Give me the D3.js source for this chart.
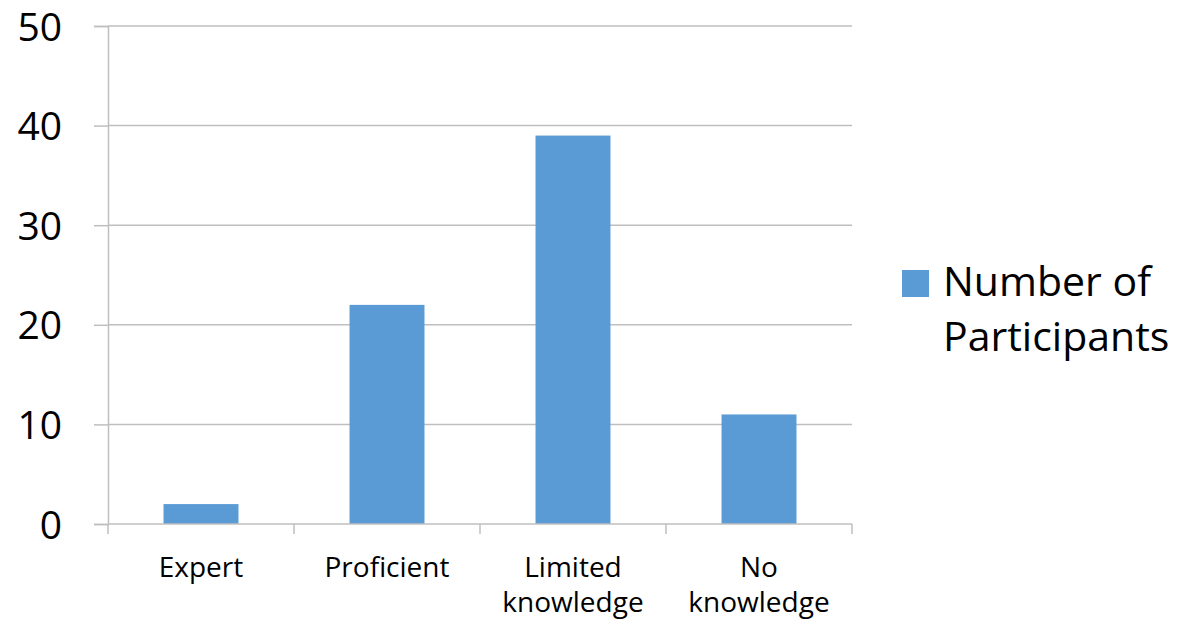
<!DOCTYPE html>
<html>
<head>
<meta charset="utf-8">
<script src="https://cdn.jsdelivr.net/npm/d3@7"></script>
<style>
  html, body { margin: 0; padding: 0; background: #fff; }
  svg text { font-family: "Open Sans", "Noto Sans", sans-serif; fill: #000; }
</style>
</head>
<body>
<svg id="chart" width="1178" height="620"></svg>
<script>
const categories = [["Expert"], ["Proficient"], ["Limited", "knowledge"], ["No", "knowledge"]];
const values = [2, 22, 39, 11];
const yTicks = [0, 10, 20, 30, 40, 50];
const seriesName = ["Number of", "Participants"];

(function () {
const svg = d3.select("#chart");
const mLeft = 108, mRight = 852, mTop = 26, mBottom = 524;
const barColor = "#5B9BD5";
const gridColor = "#BFBFBF";

const keys = categories.map(c => c.join(" "));
const x = d3.scaleBand().domain(keys).range([mLeft, mRight])
  .paddingInner(0.597).paddingOuter(0.2985);
const y = d3.scaleLinear().domain([0, 50]).range([mBottom, mTop]);

// gridlines
svg.append("g").selectAll("line").data(yTicks.filter(t => t > 0)).join("line")
  .attr("x1", mLeft).attr("x2", mRight)
  .attr("y1", d => y(d)).attr("y2", d => y(d))
  .attr("stroke", gridColor).attr("stroke-width", 1.5);

// y axis
const yAxis = d3.axisLeft(y).tickValues(yTicks).tickSize(14).tickPadding(32).tickFormat(d3.format("d"));
const gy = svg.append("g").attr("transform", `translate(${mLeft},0)`).call(yAxis);
gy.select(".domain").attr("stroke", gridColor).attr("stroke-width", 1.5);
gy.selectAll(".tick line").attr("stroke", gridColor).attr("stroke-width", 1.5);
gy.selectAll(".tick text").attr("font-size", 39).attr("fill", "#000")
  .style("font-family", '"Open Sans", sans-serif').attr("dy", "0.36em");

// bars
svg.append("g").selectAll("rect").data(values).join("rect")
  .attr("x", (d, i) => x(keys[i]))
  .attr("width", x.bandwidth())
  .attr("y", d => y(d))
  .attr("height", d => y(0) - y(d))
  .attr("fill", barColor);

// x axis line and category boundary ticks
svg.append("line").attr("x1", mLeft).attr("x2", mRight)
  .attr("y1", y(0)).attr("y2", y(0))
  .attr("stroke", gridColor).attr("stroke-width", 1.5);
const step = x.step();
const bounds = keys.map(k => x(k) - step * x.paddingInner() / 2).concat([mRight]);
svg.append("g").selectAll("line").data(bounds).join("line")
  .attr("x1", d => d).attr("x2", d => d)
  .attr("y1", y(0)).attr("y2", y(0) + 10)
  .attr("stroke", gridColor).attr("stroke-width", 1.5);

// x labels
const lab = svg.append("g").selectAll("text").data(categories).join("text")
  .attr("text-anchor", "middle")
  .attr("font-size", 28)
  .attr("x", (d, i) => x(keys[i]) + x.bandwidth() / 2)
  .attr("y", 577);
lab.selectAll("tspan").data(d => d).join("tspan")
  .attr("x", function() { return d3.select(this.parentNode).attr("x"); })
  .attr("dy", (d, i) => i === 0 ? 0 : 35)
  .text(d => d);

// legend
const lg = svg.append("g");
lg.append("rect").attr("x", 902).attr("y", 270).attr("width", 27).attr("height", 27).attr("fill", barColor);
lg.append("text").attr("font-size", 41).attr("x", 943).attr("y", 296)
  .selectAll("tspan").data(seriesName).join("tspan")
  .attr("x", 943).attr("dy", (d, i) => i === 0 ? 0 : 55).text(d => d);
})();
</script>
</body>
</html>
